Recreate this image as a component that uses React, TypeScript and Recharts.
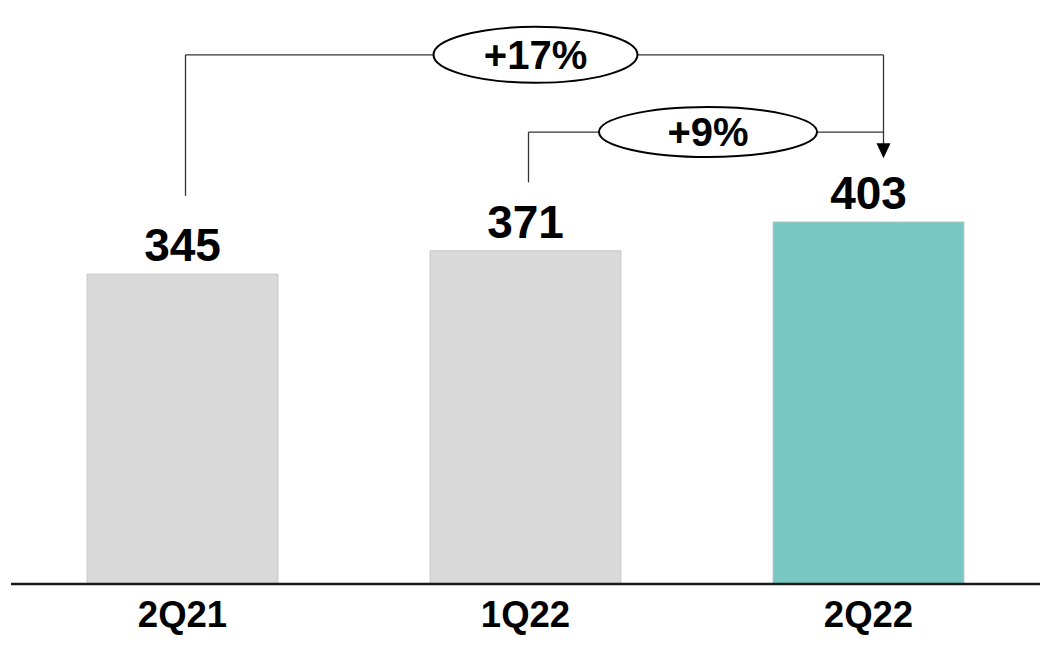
import React from 'react';
import { BarChart, Bar, XAxis, YAxis, Cell, LabelList, ReferenceLine, ReferenceDot } from 'recharts';

const categories = ['2Q21', '1Q22', '2Q22'];
const values = [345, 371, 403];
const barColors = ['#d9d9d9', '#d9d9d9', '#79c8c3'];

// growth annotations
const growthLabels = ['+17%', '+9%'];
const growthFrom = [0, 1];
const growthTo = [2, 2];
const bracketLevel = [589, 503];
const bracketStart = [432, 447];
const arrowTip = 474;

const FONT = '"Liberation Sans", Arial, Helvetica, sans-serif';

const CHART_W = 1048;
const CHART_H = 648;
const MARGIN = { top: 0, right: 8, bottom: 0, left: 11 };
const BAND = (CHART_W - MARGIN.left - MARGIN.right) / categories.length;
const FROM_DX = 3;
const TO_DX = 15;

const data = categories.map((c, i) => ({ name: c, value: values[i] }));

const ValueLabel = (props: any) => {
  const { x, y, width, value } = props;
  return (
    <text x={x + width / 2} y={y - 13} textAnchor="middle" fontFamily={FONT} fontWeight="bold" fontSize={46} fill="#000">
      {value}
    </text>
  );
};

const Tick = (props: any) => {
  const { x, y, payload } = props;
  return (
    <text x={x} y={y + 43} textAnchor="middle" fontFamily={FONT} fontWeight="bold" fontSize={36.5} fill="#000">
      {payload.value}
    </text>
  );
};

const makeBubble = (label: string, rx: number, ry: number, dx: number) => (props: any) => {
  const { cx, cy } = props;
  return (
    <g>
      <ellipse cx={cx + dx} cy={cy} rx={rx} ry={ry} fill="#fff" stroke="#000" strokeWidth={2} />
      <text x={cx + dx} y={cy + 14} textAnchor="middle" fontFamily={FONT} fontWeight="bold" fontSize={40} fill="#000">
        {label}
      </text>
    </g>
  );
};

const makeLine = (dx1: number, dx2: number) => (p: any) => (
  <line x1={p.x1 + dx1} y1={p.y1} x2={p.x2 + dx2} y2={p.y2} stroke="#333" strokeWidth={1.3} />
);

const Arrow = (props: any) => {
  const { cx, cy } = props;
  const x = cx + TO_DX;
  return <path d={`M${x - 7},${cy - 15} L${x + 7},${cy - 15} L${x},${cy} Z`} fill="#000" />;
};

const bubbleSize = [
  { rx: 102, ry: 28, dx: 10 },
  { rx: 109, ry: 25, dx: 11 },
];

export default function App() {
  return (
    <div style={{ position: 'absolute', left: 0, top: 0, background: '#fff' }}>
      <BarChart width={CHART_W} height={CHART_H} data={data} margin={MARGIN}>
        <XAxis
          dataKey="name"
          height={64}
          axisLine={{ stroke: '#1a1a1a', strokeWidth: 2.5 }}
          tickLine={false}
          tickSize={0}
          tickMargin={0}
          tick={<Tick />}
          interval={0}
        />
        <YAxis hide domain={[0, 650]} />
        <Bar dataKey="value" barSize={191} isAnimationActive={false} stroke="#c4c4c4" strokeWidth={0.8}>
          {data.map((d, i) => (
            <Cell key={d.name} fill={barColors[i]} />
          ))}
          <LabelList dataKey="value" content={<ValueLabel />} />
        </Bar>
        {growthLabels.map((lab, k) => (
          <ReferenceLine
            key={'l' + k}
            segment={[
              { x: categories[growthFrom[k]], y: bracketStart[k] },
              { x: categories[growthFrom[k]], y: bracketLevel[k] },
            ]}
            shape={makeLine(FROM_DX, FROM_DX)}
          />
        ))}
        {growthLabels.map((lab, k) => (
          <ReferenceLine
            key={'h' + k}
            segment={[
              { x: categories[growthFrom[k]], y: bracketLevel[k] },
              { x: categories[growthTo[k]], y: bracketLevel[k] },
            ]}
            shape={makeLine(FROM_DX, TO_DX)}
          />
        ))}
        <ReferenceLine
          segment={[
            { x: categories[2], y: bracketLevel[0] },
            { x: categories[2], y: arrowTip + 14 },
          ]}
          shape={makeLine(TO_DX, TO_DX)}
        />
        <ReferenceDot x={categories[2]} y={arrowTip} r={1} shape={<Arrow />} />
        {growthLabels.map((lab, k) => {
          const span = growthTo[k] - growthFrom[k];
          return (
            <ReferenceDot
              key={'b' + k}
              x={categories[growthFrom[k]]}
              y={bracketLevel[k]}
              r={1}
              shape={makeBubble(lab, bubbleSize[k].rx, bubbleSize[k].ry, (span * BAND) / 2 + bubbleSize[k].dx)}
            />
          );
        })}
      </BarChart>
    </div>
  );
}
